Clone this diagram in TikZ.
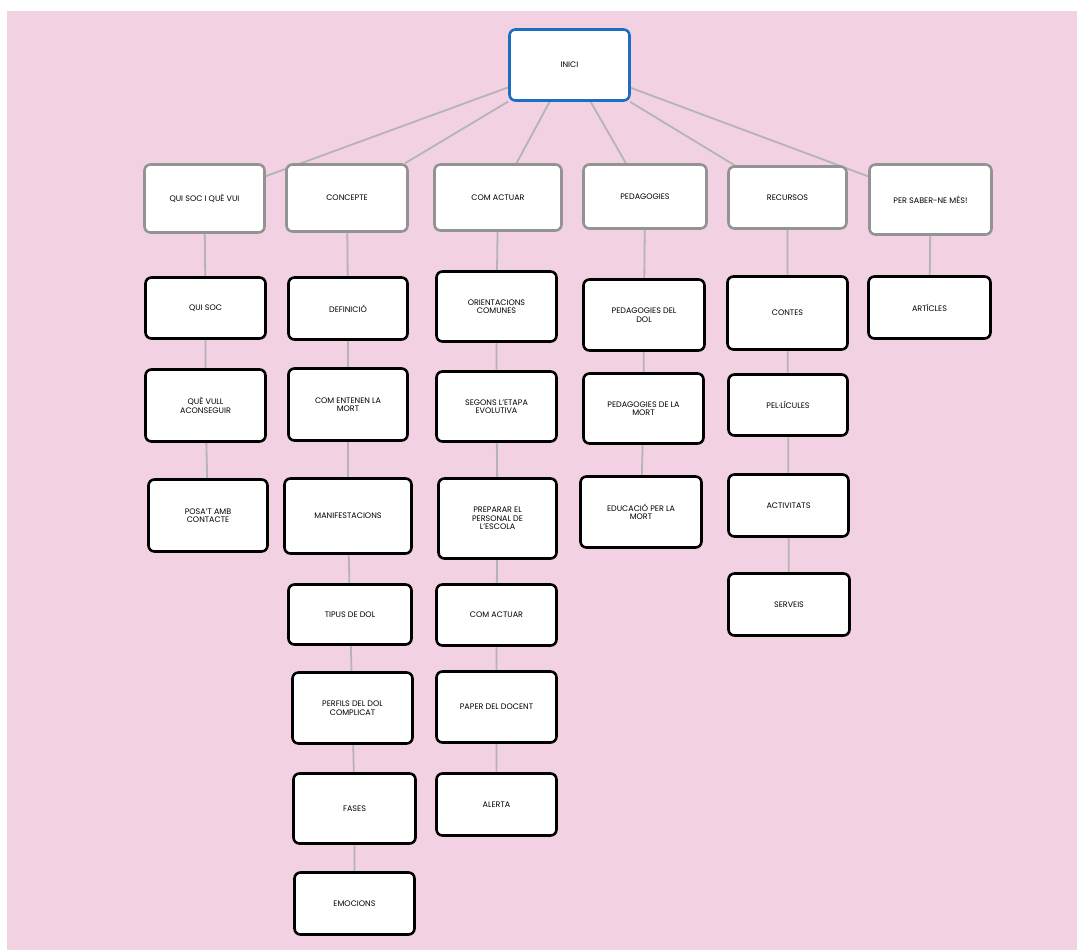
\documentclass[tikz,border=0pt]{standalone}
\usepackage{fontspec}
\setmainfont{Poppins}
\usetikzlibrary{backgrounds}
\definecolor{PageClr}{HTML}{F2D1E3}
\definecolor{TopClr}{HTML}{1B6EC2}
\definecolor{MainClr}{HTML}{939393}
\definecolor{LinkClr}{HTML}{B4B4B4}

\tikzset{
  box/.style={rounded corners=6pt,fill=white,line width=2.6pt,align=center,
    inner sep=2pt,font=\fontsize{8}{8.5}\selectfont},
  sz/.style 2 args={minimum width=#1pt,minimum height=#2pt},
  topbox/.style={box,draw=TopClr},
  mainbox/.style={box,draw=MainClr},
  subbox/.style={box,draw=black},
  link/.style={draw=LinkClr,line width=1.8pt}
}

\begin{document}
\begin{tikzpicture}[x=1pt,y=-1pt]
\useasboundingbox (0,0) rectangle (1077,950);

% arrel
\node[topbox,sz={120}{71}] (inici) at (569.5,65) {INICI};

% primer nivell
\node[mainbox,sz={120}{68}] (quisoc) at (204.5,198.5) {QUI SOC I QUÈ VUI};
\node[mainbox,sz={121}{67}] (concepte) at (347,198) {CONCEPTE};
\node[mainbox,sz={127}{66}] (actuar) at (498,197.5) {COM ACTUAR};
\node[mainbox,sz={123}{64}] (pedag) at (645,196.5) {PEDAGOGIES};
\node[mainbox,sz={118}{62}] (recursos) at (787.5,197.5) {RECURSOS};
\node[mainbox,sz={122}{70}] (saber) at (930.5,199.5) {PER SABER-NE MÉS!};

% qui soc
\node[subbox,sz={120}{61}] (qs1) at (205.5,308) {QUI SOC};
\node[subbox,sz={120}{72}] (qs2) at (205.5,405.5) {QUÈ VULL\\ACONSEGUIR};
\node[subbox,sz={119}{72}] (qs3) at (208,515.5) {POSA'T AMB\\CONTACTE};

% concepte
\node[subbox,sz={119}{62}] (co1) at (348,308.5) {DEFINICIÓ};
\node[subbox,sz={119}{72}] (co2) at (348,404.5) {COM ENTENEN LA\\MORT};
\node[subbox,sz={127}{75}] (co3) at (348,516) {MANIFESTACIONS};
\node[subbox,sz={123}{60}] (co4) at (350,614.5) {TIPUS DE DOL};
\node[subbox,sz={120}{71}] (co5) at (352.5,708) {PERFILS DEL DOL\\COMPLICAT};
\node[subbox,sz={122}{70}] (co6) at (354.5,808.5) {FASES};
\node[subbox,sz={120}{62}] (co7) at (354.5,903.5) {EMOCIONS};

% com actuar
\node[subbox,sz={120}{70}] (ac1) at (496.5,306.5) {ORIENTACIONS\\COMUNES};
\node[subbox,sz={120}{70}] (ac2) at (496.5,406.5) {SEGONS L'ETAPA\\EVOLUTIVA};
\node[subbox,sz={118}{80}] (ac3) at (497.5,518.5) {PREPARAR EL\\PERSONAL DE\\L'ESCOLA};
\node[subbox,sz={120}{61}] (ac4) at (496.5,615) {COM ACTUAR};
\node[subbox,sz={120}{71}] (ac5) at (496.5,707) {PAPER DEL DOCENT};
\node[subbox,sz={120}{62}] (ac6) at (496.5,804.5) {ALERTA};

% pedagogies
\node[subbox,sz={121}{71}] (pe1) at (644,315) {PEDAGOGIES DEL\\DOL};
\node[subbox,sz={120}{70}] (pe2) at (643.5,408.5) {PEDAGOGIES DE LA\\MORT};
\node[subbox,sz={121}{71}] (pe3) at (641,512) {EDUCACIÓ PER LA\\MORT};

% recursos
\node[subbox,sz={120}{73}] (re1) at (787.5,313) {CONTES};
\node[subbox,sz={119}{61}] (re2) at (788,405) {PEL·LÍCULES};
\node[subbox,sz={120}{62}] (re3) at (788.5,505.5) {ACTIVITATS};
\node[subbox,sz={121}{62}] (re4) at (789,604.5) {SERVEIS};

% per saber-ne mes
\node[subbox,sz={122}{62}] (sa1) at (929.5,307.5) {ARTÍCLES};

\begin{scope}[on background layer]
\fill[PageClr] (7,11) rectangle (1077,950);
\foreach \n in {quisoc,concepte,actuar,pedag,recursos,saber}
  \draw[link] (inici) -- (\n);
\draw[link] (quisoc) -- (qs1) -- (qs2) -- (qs3);
\draw[link] (concepte) -- (co1) -- (co2) -- (co3) -- (co4) -- (co5) -- (co6) -- (co7);
\draw[link] (actuar) -- (ac1) -- (ac2) -- (ac3) -- (ac4) -- (ac5) -- (ac6);
\draw[link] (pedag) -- (pe1) -- (pe2) -- (pe3);
\draw[link] (recursos) -- (re1) -- (re2) -- (re3) -- (re4);
\draw[link] (saber) -- (sa1);
\end{scope}
\end{tikzpicture}
\end{document}
